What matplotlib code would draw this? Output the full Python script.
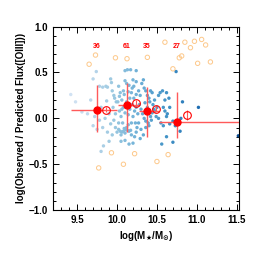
import numpy as np
import matplotlib
matplotlib.use('Agg')
import matplotlib.pyplot as plt
from matplotlib.ticker import MultipleLocator

plt.rcParams['font.family'] = ['Liberation Sans', 'DejaVu Sans']
plt.rcParams['font.weight'] = 'bold'

# individual galaxies (log mass, log ratio)
gal_mass = [9.42, 9.48, 9.56, 9.63, 9.70, 9.74, 9.78, 9.80, 9.82, 9.86, 9.88, 9.92, 9.93, 9.94,
            9.96, 9.97, 9.99, 9.95, 9.90, 9.85, 9.78, 9.72, 9.70, 9.75, 9.82, 9.88, 9.92, 9.96,
            9.98, 9.94, 9.90, 9.83, 9.98, 9.87, 9.80, 9.67,
            10.02, 10.04, 10.06, 10.08, 10.10, 10.13, 10.17, 10.24, 10.10, 10.12, 10.15, 10.19,
            10.21, 10.24, 10.03, 10.05, 10.07, 10.09, 10.11, 10.13, 10.15, 10.17, 10.04, 10.06,
            10.08, 10.02, 10.00, 10.10, 10.12, 10.14, 10.05, 10.10, 10.15, 10.20, 10.22, 10.18,
            10.20, 10.22, 10.24, 10.16, 10.18, 10.08, 10.03, 10.01, 10.10, 10.14, 10.16, 10.19,
            10.21, 10.24, 10.23, 10.25, 10.02, 10.06, 10.12, 10.09, 10.18, 10.24, 10.05, 10.14,
            10.20,
            10.27, 10.29, 10.31, 10.33, 10.34, 10.36, 10.38, 10.40, 10.28, 10.30, 10.32, 10.34,
            10.36, 10.39, 10.42, 10.44, 10.46, 10.48, 10.30, 10.33, 10.36, 10.40, 10.43, 10.45,
            10.47, 10.49, 10.27, 10.29, 10.35, 10.38, 10.42, 10.44, 10.26, 10.41, 10.50,
            10.52, 10.54, 10.57, 10.60, 10.62, 10.65, 10.58, 10.60, 10.63, 10.66, 10.52, 10.55,
            10.58, 10.62, 10.66, 10.70, 10.73, 10.77, 10.80, 10.82, 10.74, 10.56, 10.70, 10.79,
            11.02, 11.52, 10.62]
gal_ratio = [0.26, 0.18, 0.07, 0.05, 0.43, 0.51, 0.35, -0.36, 0.34, 0.35, 0.34, 0.43, 0.39, 0.30,
             0.25, 0.22, 0.18, 0.12, 0.05, 0.00, -0.02, 0.02, -0.08, -0.12, -0.10, -0.15, -0.06, -0.02,
             -0.10, -0.18, -0.25, -0.30, 0.05, 0.19, 0.12, 0.20,
             0.35, 0.28, 0.20, 0.12, 0.52, 0.53, 0.53, 0.52, 0.41, 0.38, 0.36, 0.33,
             0.35, 0.40, 0.08, 0.02, -0.05, -0.11, -0.12, -0.13, -0.14, -0.13, -0.14, -0.15,
             -0.14, -0.12, -0.15, -0.16, -0.10, -0.07, -0.25, -0.24, -0.28, -0.27, -0.20, -0.05,
             0.02, 0.08, 0.12, 0.22, 0.28, 0.30, 0.24, 0.18, 0.06, 0.04, 0.10, 0.15,
             0.22, 0.26, -0.05, -0.10, -0.05, 0.10, 0.18, 0.26, -0.18, -0.15, -0.18, 0.29,
             0.42,
             0.30, 0.25, 0.38, 0.42, 0.33, 0.30, 0.25, 0.22, 0.15, 0.10, 0.05, 0.00,
             -0.03, -0.05, 0.02, 0.06, 0.10, 0.08, -0.12, -0.18, -0.10, -0.08, -0.02, 0.15,
             0.20, 0.02, -0.05, -0.22, 0.17, 0.12, 0.30, 0.28, 0.05, 0.18, 0.12,
             0.25, 0.28, 0.30, 0.20, 0.28, 0.22, 0.12, 0.08, 0.05, 0.12, 0.00, -0.05,
             -0.08, 0.02, -0.06, -0.03, -0.08, -0.06, 0.00, 0.18, 0.51, -0.28, -0.26, -0.14,
             0.12, -0.19, -0.20]

# outliers (open orange)
out_mass = [9.65, 9.73, 9.98, 10.125, 10.38, 10.60, 10.70, 10.78, 10.81, 10.85, 10.92, 10.97,
            11.06, 11.11, 11.01, 11.17, 9.77, 9.93, 10.08, 10.22, 10.50, 10.64]
out_ratio = [0.59, 0.69, 0.66, 0.65, 0.665, 0.83, 0.54, 0.66, 0.68, 0.83, 0.77, 0.84,
             0.86, 0.80, 0.60, 0.615, -0.54, -0.375, -0.50, -0.385, -0.47, -0.395]

# binned medians
bin_mass = [9.75, 10.125, 10.375, 10.75]
bin_ratio = [0.09, 0.145, 0.085, -0.045]
bin_xlo = [9.425, 10.015, 10.27, 10.52]
bin_xhi = [10.0, 10.27, 10.52, 11.55]
bin_ylo = [-0.145, -0.145, -0.20, -0.21]
bin_yhi = [0.36, 0.38, 0.345, 0.29]
bin_n = ['36', '61', '35', '27']

# stacked values (open red)
stk_mass = [9.86, 10.24, 10.49, 10.88]
stk_ratio = [0.095, 0.17, 0.105, 0.036]
stk_err = [0.03, 0.03, 0.03, 0.05]

fig = plt.figure(figsize=(2.66, 2.66), dpi=100)
ax = fig.add_axes([0.2, 0.21, 0.699, 0.69])

gm = np.array(gal_mass)
ax.scatter(gm, gal_ratio, s=6, c=plt.cm.Blues(0.15 + 0.75 * np.clip((gm - 9.3) / 2.1, 0, 1)),
           linewidths=0, zorder=2)
ax.scatter(out_mass, out_ratio, s=10, facecolors='none', edgecolors='#fdc88a',
           linewidths=0.7, zorder=2)

bm = np.array(bin_mass)
br = np.array(bin_ratio)
xerr = [bm - np.array(bin_xlo), np.array(bin_xhi) - bm]
yerr = [br - np.array(bin_ylo), np.array(bin_yhi) - br]
ax.errorbar(bm, br, xerr=xerr, yerr=yerr, fmt='o', color='red', ms=5,
            ecolor='#ff5a5a', elinewidth=1.0, capsize=0, zorder=4)
ax.errorbar(stk_mass, stk_ratio, yerr=stk_err, fmt='o', mfc='none', mec='red', mew=0.8,
            ms=5.5, ecolor='#ff5a5a', elinewidth=0.8, capsize=0, zorder=4)

for m, n in zip(bin_mass, bin_n):
    ax.text(m, 0.78, n, color='red', fontsize=5, fontweight='bold', ha='center', va='center')

ax.set_xlim(9.2, 11.53)
ax.set_ylim(-1.0, 1.0)
ax.xaxis.set_major_locator(MultipleLocator(0.5))
ax.xaxis.set_minor_locator(MultipleLocator(0.1))
ax.yaxis.set_major_locator(MultipleLocator(0.5))
ax.yaxis.set_minor_locator(MultipleLocator(0.1))
ax.tick_params(which='both', direction='in', top=True, right=True, labelsize=7, width=0.7)
ax.tick_params(which='major', length=4)
ax.tick_params(which='minor', length=2)
for sp in ax.spines.values():
    sp.set_linewidth(0.8)
for lab in ax.get_xticklabels() + ax.get_yticklabels():
    lab.set_fontweight('bold')

ax.set_xlabel(r'log(M$_\bigstar$/M$_{\odot}$)', fontsize=7, fontweight='bold', labelpad=3)
ax.set_ylabel('log(Observed / Predicted Flux([OIII]))', fontsize=7, fontweight='bold', labelpad=2)

fig.savefig('out.png', dpi=100)
